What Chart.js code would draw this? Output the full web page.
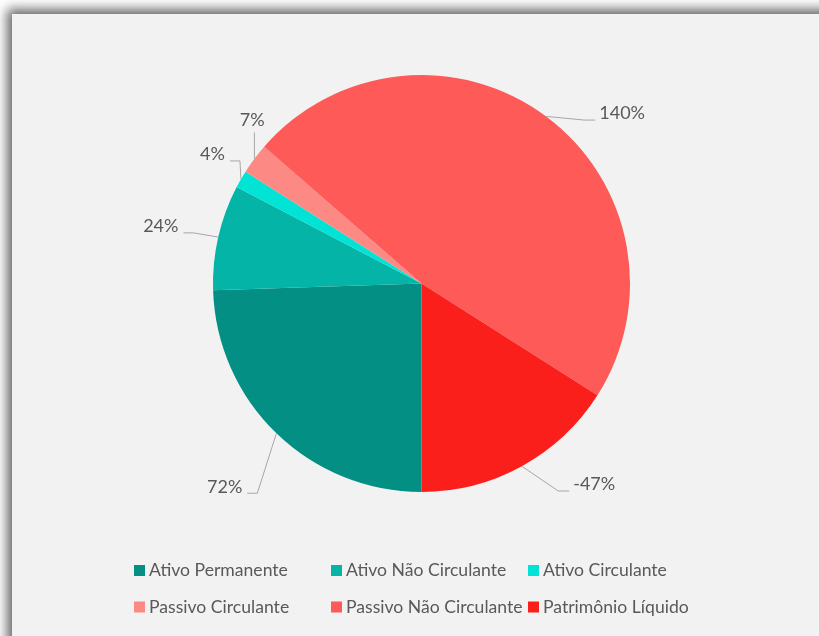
<!DOCTYPE html>
<html>
<head>
<meta charset="utf-8">
<script src="https://cdn.jsdelivr.net/npm/chart.js@4"></script>
<style>
  html, body { margin: 0; padding: 0; background: #ffffff; overflow: hidden; }
  body { width: 819px; height: 636px; position: relative; }
  #panel {
    position: absolute; left: 12px; top: 14px; width: 840px; height: 660px;
    background: #f2f2f2;
    box-shadow: -3px -3px 11px 2px rgba(0, 0, 0, 0.6);
  }
  #chart { position: absolute; left: 0; top: 0; }
</style>
</head>
<body>
<div id="panel"><canvas id="chart" width="807" height="622"></canvas></div>
<script>
// chart data
const categories = ['Ativo Permanente', 'Ativo Não Circulante', 'Ativo Circulante',
                    'Passivo Circulante', 'Passivo Não Circulante', 'Patrimônio Líquido'];
const percentValues = [72, 24, 4, 7, 140, -47];
const sliceColors = ['#038f84', '#03b4a7', '#01e3d4', '#fc8983', '#fd5a58', '#fb1f1c'];

// where Excel put each data label: angle shift (deg) from the slice middle, distance / radius
const labelPlacement = [
    { shift: 0, dist: 1.357 },
    { shift: -0.5, dist: 1.28 },
    { shift: 1.7, dist: 1.178 },
    { shift: 7.2, dist: 1.127 },
    { shift: 13, dist: 1.261 },
    { shift: -11.9, dist: 1.271 }
];

const textColor = '#595959';
const lineColor = '#a6a6a6';

const pieLabels = {
    id: 'pieLabels',
    afterDatasetsDraw(chart) {
        const ctx = chart.ctx;
        const arcs = chart.getDatasetMeta(0).data;
        ctx.save();
        ctx.font = '18px Lato';
        ctx.textBaseline = 'middle';
        ctx.textAlign = 'center';
        arcs.forEach((arc, i) => {
            const { x, y, startAngle, endAngle, outerRadius } = arc.getProps(['x', 'y', 'startAngle', 'endAngle', 'outerRadius'], true);
            const mid = (startAngle + endAngle) / 2;
            const ex = x + Math.cos(mid) * outerRadius;
            const ey = y + Math.sin(mid) * outerRadius;
            const p = labelPlacement[i];
            const a = mid + p.shift * Math.PI / 180;
            const tx = x + Math.cos(a) * outerRadius * p.dist;
            const ty = y + Math.sin(a) * outerRadius * p.dist;
            const text = percentValues[i] + '%';
            const w = ctx.measureText(text).width;
            const left = tx - w / 2, right = tx + w / 2;

            ctx.strokeStyle = lineColor;
            ctx.lineWidth = 1;
            ctx.beginPath();
            ctx.moveTo(ex, ey);
            if (ex > left && ex < right) {
                ctx.lineTo(ex, ty + 12);
            } else if (tx > ex) {
                const ly = ty + 6.5;
                ctx.lineTo(left - 15, ly);
                ctx.lineTo(left - 4, ly);
            } else {
                const ly = ty + 6.5;
                ctx.lineTo(right + 15, ly);
                ctx.lineTo(right + 5, ly);
            }
            ctx.stroke();

            ctx.fillStyle = textColor;
            ctx.fillText(text, tx, ty);
        });
        ctx.restore();
    },
    afterDraw(chart) {
        // legend drawn as a 3 x 2 grid like the Excel one
        const ctx = chart.ctx;
        ctx.save();
        ctx.font = '17.6px Lato';
        ctx.textBaseline = 'middle';
        ctx.textAlign = 'left';
        chart.data.labels.forEach((label, i) => {
            const col = i % 3, row = Math.floor(i / 3);
            const mx = 122 + col * 197;
            const my = 556.5 + row * 36.5;
            ctx.fillStyle = chart.data.datasets[0].backgroundColor[i];
            ctx.fillRect(mx, my - 5.5, 11, 11);
            ctx.fillStyle = textColor;
            ctx.fillText(label, mx + 15, my);
        });
        ctx.restore();
    }
};

const ctx = document.getElementById('chart').getContext('2d');
new Chart(ctx, {
    type: 'pie',
    data: {
        labels: categories,
        datasets: [{
            data: percentValues.map(v => Math.abs(v)),
            backgroundColor: sliceColors,
            borderWidth: 0
        }]
    },
    options: {
        responsive: false,
        animation: false,
        rotation: 180,
        layout: { padding: { left: 201, top: 61, right: 189, bottom: 144 } },
        plugins: {
            legend: { display: false },
            tooltip: { enabled: false }
        }
    },
    plugins: [pieLabels]
});
</script>
</body>
</html>
